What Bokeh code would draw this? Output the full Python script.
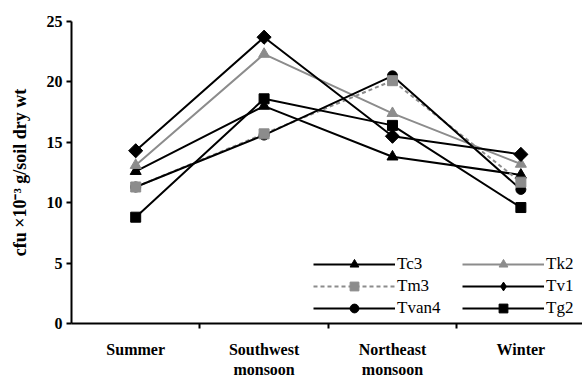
import math
from bokeh.plotting import figure
from bokeh.models import Range1d, FixedTicker, Legend, LegendItem
from bokeh.embed import file_html
from bokeh.resources import INLINE

seasons = ["Summer", "Southwest\nmonsoon", "Northeast\nmonsoon", "Winter"]
y_ticks = [0, 5, 10, 15, 20, 25]

tc3 = [12.6, 18.0, 13.8, 12.3]
tk2 = [13.1, 22.3, 17.4, 13.2]
tm3 = [11.3, 15.7, 20.1, 11.7]
tv1 = [14.3, 23.7, 15.5, 14.0]
tvan4 = [11.3, 15.6, 20.5, 11.1]
tg2 = [8.8, 18.6, 16.4, 9.6]

BLACK = "#000000"
GRAY = "#8c8c8c"
FONT = "Liberation Serif"

series = [
    ("Tc3", tc3, BLACK, "solid", "triangle", 11, 0.0),
    ("Tk2", tk2, GRAY, "solid", "triangle", 11, 0.0),
    ("Tm3", tm3, GRAY, "4 3", "square", 10, 0.0),
    ("Tv1", tv1, BLACK, "solid", "square", 10, math.pi / 4),
    ("Tvan4", tvan4, BLACK, "solid", "circle", 10, 0.0),
    ("Tg2", tg2, BLACK, "solid", "square", 10, 0.0),
]

xs = [i + 0.5 for i in range(len(seasons))]

p = figure(frame_width=511, frame_height=302, output_backend="svg", toolbar_location=None,
           x_range=Range1d(0, 3.98), y_range=Range1d(0, 25),
           min_border_left=71, min_border_top=21, min_border_bottom=10, min_border_right=0)
p.grid.visible = False
p.outline_line_color = None

line_order = ["Tc3", "Tk2", "Tm3", "Tv1", "Tg2", "Tvan4"]
marker_order = ["Tc3", "Tk2", "Tv1", "Tvan4", "Tm3", "Tg2"]
info = {s[0]: s for s in series}
rends = {}
for name in line_order:
    _, vals, col, dash, mk, sz, ang = info[name]
    r = p.line(xs, vals, line_color=col, line_width=2, line_dash=dash)
    rends.setdefault(name, []).append(r)
# legend diamond for Tv1, hidden under the rotated square in the plot
dia = p.scatter(xs, tv1, marker="diamond", size=13, fill_color=BLACK, line_color=BLACK)
for name in marker_order:
    _, vals, col, dash, mk, sz, ang = info[name]
    r = p.scatter(xs, vals, marker=mk, size=sz, angle=ang, fill_color=col, line_color=col)
    rends[name].append(r)
rends["Tv1"] = [rends["Tv1"][0], dia]

def make_legend(names, loc):
    lg = Legend(items=[LegendItem(label=n, renderers=rends[n]) for n in names],
                location=loc, orientation="vertical",
                glyph_width=82, glyph_height=22, label_standoff=2, spacing=0,
                padding=0, margin=0, border_line_color=None, background_fill_alpha=0,
                label_text_font=FONT, label_text_font_size="17px", label_text_color=BLACK,
                label_height=22)
    p.add_layout(lg, "center")

make_legend(["Tc3", "Tm3", "Tvan4"], (242, 4))
make_legend(["Tk2", "Tv1", "Tg2"], (391, 4))

xa = p.xaxis[0]
xa.ticker = FixedTicker(ticks=xs, minor_ticks=[1, 2, 3])
xa.major_label_overrides = {x: s for x, s in zip(xs, seasons)}
xa.major_tick_line_color = None
xa.major_tick_out = 0
xa.major_tick_in = 0
xa.minor_tick_out = 5
xa.minor_tick_in = 0
xa.minor_tick_line_width = 2
xa.minor_tick_line_color = BLACK
xa.axis_line_width = 2
xa.axis_line_color = BLACK
xa.axis_label_standoff = 0
xa.major_label_standoff = 12
xa.major_label_text_font = FONT
xa.major_label_text_font_style = "bold"
xa.major_label_text_font_size = "16px"
xa.major_label_text_color = BLACK

ya = p.yaxis[0]
ya.ticker = FixedTicker(ticks=y_ticks, minor_ticks=[])
ya.major_tick_out = 5
ya.major_tick_in = 0
ya.major_tick_line_width = 2
ya.axis_line_width = 2
ya.axis_line_color = BLACK
ya.major_tick_line_color = BLACK
ya.major_label_standoff = 4
ya.major_label_text_font = FONT
ya.major_label_text_font_style = "bold"
ya.major_label_text_font_size = "16px"
ya.major_label_text_color = BLACK
ya.axis_label = "cfu \u00d710\u207b\u00b3 g/soil dry wt"
ya.axis_label_text_font = FONT
ya.axis_label_text_font_style = "bold"
ya.axis_label_text_font_size = "18px"
ya.axis_label_text_color = BLACK
ya.axis_label_standoff = 14

html = file_html(p, INLINE)
html = html.replace("</head>", "<style>html,body{overflow:hidden;}</style></head>", 1)
open("out.html", "w").write(html)
